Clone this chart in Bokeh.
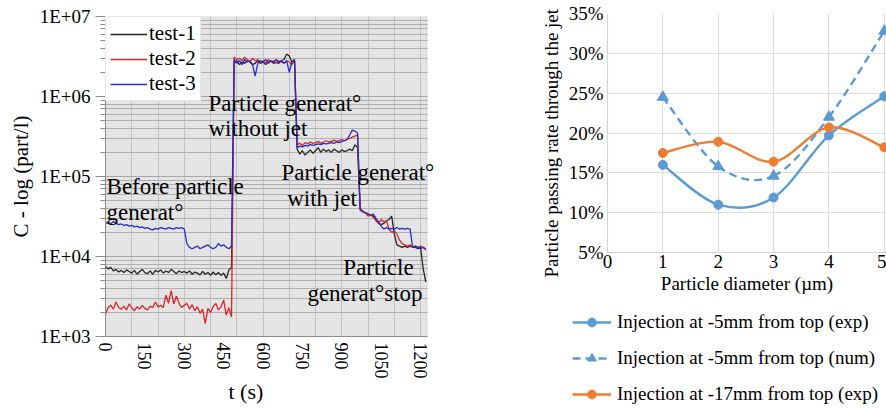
import math
from bokeh.plotting import figure
from bokeh.models import (FixedTicker, CustomJSTickFormatter, Legend, LegendItem,
                          Label, NumeralTickFormatter, Range1d, ColumnDataSource,
                          BoxAnnotation, Title)
from bokeh.layouts import row, column
from bokeh.embed import file_html
from bokeh.resources import INLINE

# ---------------- left chart data ----------------
t_s = list(range(0, 1230, 10))   # sampling times (s)

test1 = ([7500, 7000, 7300, 6600, 6900, 6400, 6700, 6300, 6800, 6500,
          6200, 6700, 6000, 6500, 6900, 6300, 6100, 6600, 6000, 6700,
          6400, 6800, 6200, 6600, 6300, 6900, 6500, 6100, 6600, 6300,
          6500, 6200, 6600, 6000, 6400, 6200, 5900, 6500, 6000, 6300,
          5800, 6400, 5900, 6300, 5800, 6200, 5300, 6800, 7300]
         + [2.6e6, 2.8e6, 2.5e6, 2.7e6, 2.6e6, 2.8e6, 2.7e6, 2.5e6, 2.6e6, 2.8e6,
            2.6e6, 2.7e6, 2.5e6, 2.7e6, 2.8e6, 2.6e6, 2.7e6, 2.6e6, 2.8e6, 2.9e6,
            3.4e6, 3.2e6, 2.7e6, 2.9e6]
         + [2.2e5, 1.9e5, 2.1e5, 1.85e5, 2.0e5, 2.15e5, 1.95e5, 2.1e5, 2.3e5, 2.0e5,
            2.2e5, 2.05e5, 2.15e5, 2.0e5, 2.2e5, 2.1e5, 2.0e5, 2.15e5, 2.05e5, 2.1e5,
            2.2e5, 2.1e5, 2.5e5, 2.3e5]
         + [3.9e4, 3.7e4, 3.5e4, 3.4e4, 3.3e4, 3.2e4, 2.9e4, 2.6e4, 2.5e4, 2.6e4,
            2.8e4, 2.9e4, 3.2e4, 1.9e4, 1.4e4, 1.35e4, 1.3e4, 1.35e4, 1.3e4, 1.35e4,
            1.3e4, 1.3e4, 1.25e4, 1.3e4, 7.0e3, 4.8e3])

test2 = ([1900, 2300, 2450, 2200, 2700, 2300, 2200, 2400, 2150, 2550,
          2300, 2100, 2350, 2200, 2450, 2250, 2150, 2400, 2300, 2700,
          2350, 2450, 2300, 3300, 2600, 3750, 2550, 3200, 2600, 2300,
          2450, 2600, 2200, 2500, 2100, 2350, 1950, 2200, 1450, 2250,
          2000, 2350, 2600, 2150, 2350, 2850, 1850, 2300, 1750]
         + [3.1e6, 2.9e6, 3.0e6, 2.8e6, 3.1e6, 2.9e6, 2.7e6, 3.0e6, 2.8e6, 2.9e6,
            2.7e6, 2.8e6, 2.6e6, 2.9e6, 2.7e6, 2.8e6, 2.6e6, 2.8e6, 2.7e6, 2.6e6,
            2.8e6, 2.7e6, 2.5e6, 2.8e6]
         + [2.5e5, 2.6e5, 2.45e5, 2.65e5, 2.55e5, 2.7e5, 2.6e5, 2.65e5, 2.75e5, 2.6e5,
            2.7e5, 2.8e5, 2.7e5, 2.75e5, 2.85e5, 2.75e5, 2.8e5, 2.9e5, 2.8e5, 2.9e5,
            3.0e5, 3.1e5, 3.2e5, 3.3e5]
         + [4.0e4, 3.7e4, 3.5e4, 3.2e4, 3.3e4, 3.1e4, 2.8e4, 2.6e4, 2.9e4, 2.7e4,
            2.8e4, 2.2e4, 2.0e4, 2.1e4, 1.9e4, 1.6e4, 1.45e4, 1.4e4, 1.35e4, 1.4e4,
            1.3e4, 1.35e4, 1.3e4, 1.35e4, 1.3e4, 1.2e4])

test3 = ([2.6e4, 2.65e4, 2.55e4, 2.75e4, 2.6e4, 2.5e4, 2.55e4, 2.45e4, 2.5e4, 2.4e4,
          2.45e4, 2.35e4, 2.4e4, 2.3e4, 2.35e4, 2.25e4, 2.3e4, 2.2e4, 2.15e4, 2.25e4,
          2.2e4, 2.3e4, 2.25e4, 2.2e4, 2.3e4, 2.25e4, 2.2e4, 2.3e4, 2.25e4, 2.3e4,
          2.2e4, 1.45e4, 1.3e4, 1.25e4, 1.3e4, 1.35e4, 1.25e4, 1.3e4, 1.35e4, 1.4e4,
          1.3e4, 1.25e4, 1.3e4, 1.45e4, 1.35e4, 1.4e4, 1.3e4, 1.25e4, 1.35e4]
         + [2.9e6, 2.6e6, 2.8e6, 2.5e6, 2.9e6, 2.7e6, 2.8e6, 2.5e6, 1.8e6, 2.6e6,
            2.8e6, 2.7e6, 2.9e6, 2.6e6, 2.8e6, 2.7e6, 2.9e6, 2.7e6, 2.8e6, 2.6e6,
            2.8e6, 2.0e6, 2.7e6, 2.8e6]
         + [2.3e5, 2.4e5, 2.35e5, 2.45e5, 2.4e5, 2.5e5, 2.45e5, 2.5e5, 2.55e5, 2.5e5,
            2.6e5, 2.55e5, 2.6e5, 2.65e5, 2.6e5, 2.7e5, 2.65e5, 2.75e5, 2.8e5, 2.9e5,
            3.3e5, 3.8e5, 3.7e5, 3.5e5]
         + [3.8e4, 3.6e4, 3.5e4, 3.4e4, 3.3e4, 3.4e4, 3.0e4, 2.7e4, 2.4e4, 2.2e4,
            2.3e4, 2.2e4, 2.25e4, 2.2e4, 2.3e4, 2.2e4, 2.25e4, 2.2e4, 2.25e4, 2.2e4,
            1.3e4, 1.35e4, 1.3e4, 1.25e4, 1.3e4, 1.25e4])

series_names = ["test-1", "test-2", "test-3"]
series_colors = ["#262626", "#d8262a", "#2b2bc8"]

T_END = 1225          # end of the time axis (s)
C_MIN, C_MAX = 1e3, 1e7
t_ticks = [0, 150, 300, 450, 600, 750, 900, 1050, 1200]
t_grid = [0, 100, 200, 300, 400, 500, 600, 700, 800, 900, 1000, 1100, 1200]
c_ticks = [1e3, 1e4, 1e5, 1e6, 1e7]

# annotations: (text, t, C) -- left/baseline anchor in data units
notes = [
    ("Particle generat\u00b0", 392, 8.17e5),
    ("without jet", 392, 3.98e5),
    ("Before particle", 4, 7.5e4),
    ("generat\u00b0", 4, 3.55e4),
    ("Particle generat\u00b0", 670, 1.12e5),
    ("with jet", 692, 5.3e4),
    ("Particle", 906, 7.3e3),
    ("generat\u00b0stop", 769, 3.45e3),
]

# ---------------- right chart data ----------------
diam = [1, 2, 3, 4, 5]
exp5 = [0.160, 0.110, 0.119, 0.197, 0.246]
num5 = [0.245, 0.158, 0.146, 0.220, 0.328]
exp17 = [0.175, 0.189, 0.164, 0.207, 0.182]
pct_ticks = [0.05, 0.10, 0.15, 0.20, 0.25, 0.30, 0.35]
d_ticks = [0, 1, 2, 3, 4, 5]
right_labels = ["Injection at -5mm from top (exp)",
                "Injection at -5mm from top (num)",
                "Injection at -17mm from top (exp)"]

FONT = "Liberation Serif"

# ================= LEFT FIGURE =================
p1 = figure(width=530, height=409, y_axis_type="log",
            x_range=Range1d(0, 1295), y_range=Range1d(C_MIN, C_MAX),
            output_backend="svg", toolbar_location=None, frame_align=False,
            min_border_left=105, min_border_right=85,
            min_border_top=16, min_border_bottom=73)
p1.background_fill_color = "white"
p1.border_fill_color = "white"
p1.outline_line_color = None

p1.add_layout(BoxAnnotation(left=0, right=T_END, bottom=C_MIN, top=C_MAX,
                            fill_color="#e4e4e4", fill_alpha=1.0,
                            line_color="#9a9a9a", line_width=1, level="image"))

p1.ygrid.grid_line_color = "#a8a8a8"
p1.ygrid.minor_grid_line_color = "#b0b0b0"
p1.ygrid.cross_bounds = (0, T_END)
p1.xgrid.ticker = FixedTicker(ticks=t_grid)
p1.xgrid.grid_line_color = "#c2c2c2"

p1.xaxis.ticker = FixedTicker(ticks=t_ticks)
p1.xaxis.bounds = (0, T_END)
p1.yaxis.ticker = FixedTicker(ticks=c_ticks,
                              minor_ticks=[m * 10 ** e for e in range(3, 7) for m in range(2, 10)])
p1.yaxis.formatter = CustomJSTickFormatter(
    code="const e = Math.round(Math.log10(tick)); return '1E+' + (e < 10 ? '0' + e : '' + e);")
p1.xaxis.major_label_orientation = -math.pi / 2

for ax in (p1.xaxis, p1.yaxis):
    ax.axis_line_color = "#8c8c8c"
    ax.major_tick_line_color = "#8c8c8c"
    ax.minor_tick_line_color = "#8c8c8c"
    ax.major_label_text_font = FONT
    ax.major_label_text_font_size = "19px"
    ax.major_label_text_color = "black"
    ax.axis_label_text_font = FONT
    ax.axis_label_text_font_style = "normal"
    ax.axis_label_text_color = "black"

p1.yaxis.major_tick_out = 10
p1.yaxis.major_tick_in = 0
p1.yaxis.minor_tick_out = 5
p1.yaxis.minor_tick_in = 0
p1.yaxis.major_label_standoff = 5
p1.yaxis.axis_label = "C - log (part/l)"
p1.yaxis.axis_label_text_font_size = "21px"
p1.yaxis.axis_label_standoff = 4

p1.xaxis.major_tick_out = 0
p1.xaxis.major_tick_in = 0
p1.xaxis.minor_tick_out = 0
p1.xaxis.minor_tick_in = 0
p1.xaxis.major_label_standoff = 6
p1.xaxis.major_label_text_font_size = "18px"

p1.add_layout(Title(text="t (s)", align="left", offset=123, standoff=-6,
                    vertical_align="top", text_font=FONT, text_font_size="22px",
                    text_font_style="normal", text_color="black"), "below")

src1 = ColumnDataSource(dict(t=t_s, a=test1, b=test2, c=test3))
left_items = []
for col, name, color in zip(["a", "b", "c"], series_names, series_colors):
    r = p1.line("t", col, source=src1, line_color=color, line_width=1.3)
    left_items.append(LegendItem(label=name, renderers=[r]))

leg1 = Legend(items=left_items, location="top_left", margin=0, padding=4,
              spacing=0, label_text_font=FONT, label_text_font_size="21px",
              label_text_color="black",
              label_height=22, glyph_height=22, glyph_width=37, label_standoff=2,
              background_fill_color="white", background_fill_alpha=1.0,
              border_line_color="#cfcfcf")
p1.add_layout(leg1, "center")

for txt, tx, cy in notes:
    p1.add_layout(Label(x=tx, y=cy, text=txt, text_font=FONT, text_font_size="23px",
                        text_baseline="alphabetic", text_align="left", text_color="black"))

# ================= RIGHT FIGURE =================
p2 = figure(width=356, height=300, x_range=Range1d(0, 5.04), y_range=Range1d(0.05, 0.35),
            output_backend="svg", toolbar_location=None, frame_align=False,
            min_border_left=77, min_border_right=0, min_border_top=13, min_border_bottom=48)
p2.outline_line_color = None
p2.background_fill_color = "white"
p2.xgrid.grid_line_color = "#dcdcdc"
p2.ygrid.grid_line_color = "#dcdcdc"
p2.xgrid.grid_line_width = 1.2
p2.ygrid.grid_line_width = 1.2
p2.xaxis.ticker = FixedTicker(ticks=d_ticks)
p2.yaxis.ticker = FixedTicker(ticks=pct_ticks)
p2.yaxis.formatter = NumeralTickFormatter(format="0%")
for ax in (p2.xaxis, p2.yaxis):
    ax.axis_line_color = "#d4d4d4"
    ax.axis_line_width = 1.2
    ax.major_tick_out = 0
    ax.major_tick_in = 0
    ax.minor_tick_out = 0
    ax.minor_tick_in = 0
    ax.major_label_text_font = FONT
    ax.major_label_text_font_size = "19px"
    ax.major_label_text_color = "black"
    ax.axis_label_text_font = FONT
    ax.axis_label_text_font_size = "19px"
    ax.axis_label_text_font_style = "normal"
    ax.axis_label_text_color = "black"
p2.yaxis.major_label_standoff = 4
p2.xaxis.major_label_standoff = 2
p2.xaxis.axis_label = "Particle diameter (\u00b5m)"
p2.xaxis.axis_label_standoff = 2

p2.add_layout(Title(text="Particle passing rate through the jet", align="left",
                    offset=-25, standoff=8, text_font=FONT, text_font_size="19px",
                    text_font_style="normal", text_color="black"), "left")

BLUE = "#5b9bd5"
ORANGE = "#ed7d31"


def smooth_segments(xs, ys):
    n = len(xs)
    pts = list(zip(xs, ys))
    d = dict(x0=[], y0=[], x1=[], y1=[], cx0=[], cy0=[], cx1=[], cy1=[])
    for i in range(n - 1):
        p0 = pts[i - 1] if i > 0 else pts[i]
        pa = pts[i]
        pb = pts[i + 1]
        p3_ = pts[i + 2] if i + 2 < n else pts[i + 1]
        d["x0"].append(pa[0]); d["y0"].append(pa[1])
        d["x1"].append(pb[0]); d["y1"].append(pb[1])
        d["cx0"].append(pa[0] + (pb[0] - p0[0]) / 6.0)
        d["cy0"].append(pa[1] + (pb[1] - p0[1]) / 6.0)
        d["cx1"].append(pb[0] - (p3_[0] - pa[0]) / 6.0)
        d["cy1"].append(pb[1] - (p3_[1] - pa[1]) / 6.0)
    return ColumnDataSource(d)


specs = [
    (exp5, BLUE, "solid", "circle", 9),
    (num5, BLUE, "8 5", "triangle", 11),
    (exp17, ORANGE, "solid", "circle", 9),
]

# legend strip under the right chart (its ranges exclude the data, only the key shows)
p3 = figure(width=356, height=109, x_range=Range1d(-1, 0), y_range=Range1d(-1, 0),
            x_axis_location=None, y_axis_location=None, output_backend="svg",
            toolbar_location=None, frame_align=False, min_border=0)
p3.outline_line_color = None
p3.grid.grid_line_color = None

right_items = []
for (vals, color, dash, marker, size), lab in zip(specs, right_labels):
    p2.bezier(x0="x0", y0="y0", x1="x1", y1="y1", cx0="cx0", cy0="cy0",
              cx1="cx1", cy1="cy1", source=smooth_segments(diam, vals),
              line_color=color, line_width=2.4, line_dash=dash)
    p2.scatter(diam, vals, marker=marker, size=size, fill_color=color, line_color=color)
    lr = p3.line(diam, vals, line_color=color, line_width=2.4, line_dash=dash)
    sr = p3.scatter(diam, vals, marker=marker, size=size, fill_color=color, line_color=color)
    right_items.append(LegendItem(label=lab, renderers=[lr, sr]))

leg2 = Legend(items=right_items, location=(42, 4), margin=0, padding=0,
              spacing=14, label_text_font=FONT, label_text_font_size="19px",
              label_text_color="black",
              label_height=22, glyph_height=22, glyph_width=39, label_standoff=6,
              background_fill_alpha=0.0, border_line_color=None)
p3.add_layout(leg2, "center")

layout = row(p1, column(p2, p3))
open("out.html", "w").write(file_html(layout, INLINE))
